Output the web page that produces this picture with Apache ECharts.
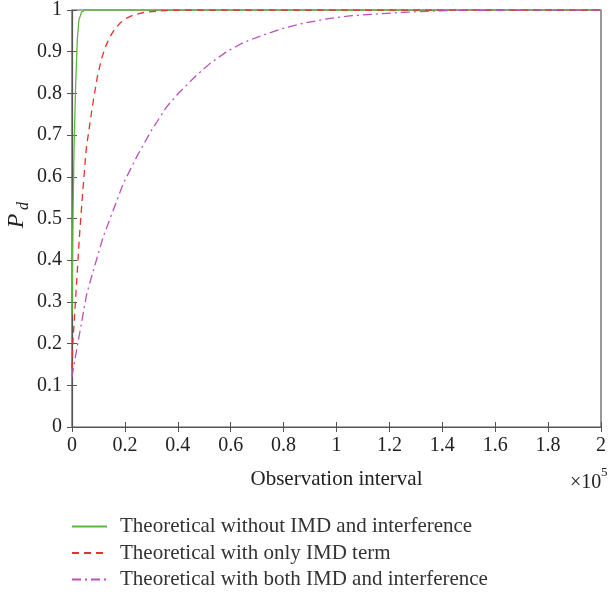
<!DOCTYPE html>
<html>
<head>
<meta charset="utf-8">
<script src="https://cdn.jsdelivr.net/npm/echarts@6/dist/echarts.min.js"></script>
<style>
html, body { margin: 0; padding: 0; background: #fff; }
#dashboard { width: 611px; height: 595px; }
</style>
</head>
<body>
<div id="dashboard"></div>
<script>
// observation interval in units of 1e5
var greenX = [0, 0.002, 0.004, 0.0076, 0.014, 0.020, 0.026, 0.036, 0.05, 2];
var greenY = [0.27, 0.40, 0.52, 0.664, 0.824, 0.928, 0.976, 0.995, 1, 1];

var redX = [0, 0.003, 0.008, 0.018, 0.028, 0.040, 0.054, 0.068, 0.081, 0.096, 0.112, 0.128, 0.144, 0.162, 0.181, 0.205, 0.232, 0.27, 0.333, 0.4, 2];
var redY = [0.14, 0.2, 0.25, 0.353, 0.456, 0.56, 0.668, 0.73, 0.784, 0.84, 0.884, 0.914, 0.936, 0.955, 0.968, 0.98, 0.988, 0.994, 0.998, 1, 1];

var purpleX = [0, 0.005, 0.030, 0.056, 0.081, 0.118, 0.156, 0.194, 0.248, 0.301, 0.358, 0.408, 0.465, 0.522, 0.585, 0.648, 0.723, 0.799, 0.874, 0.957, 1.05, 1.24, 1.43, 2];
var purpleY = [0.12, 0.14, 0.229, 0.32, 0.376, 0.456, 0.52, 0.584, 0.652, 0.712, 0.768, 0.804, 0.84, 0.872, 0.9, 0.922, 0.94, 0.956, 0.968, 0.978, 0.986, 0.994, 0.999, 1];

var seriesNames = [
	'Theoretical without IMD and interference',
	'Theoretical with only IMD term',
	'Theoretical with both IMD and interference'
];

function pairs(xs, ys) {
	var out = [];
	for (var i = 0; i < xs.length; i++) out.push([xs[i], ys[i]]);
	return out;
}

var serif = 'Liberation Serif';
var axisCol = '#555';
function fmt(v) { return String(parseFloat(v.toFixed(1))); }

var myChart = echarts.init(document.getElementById('dashboard'));
var option = {
	animation: false,
	textStyle: { fontFamily: serif },
	grid: { left: 72, right: 10, top: 10, bottom: 168, outerBoundsMode: 'none', containLabel: false,
		show: true, borderColor: axisCol, borderWidth: 1.2 },
	legend: {
		orient: 'vertical',
		left: 66,
		top: 511,
		itemWidth: 35,
		itemHeight: 14,
		itemGap: 5.5,
		itemStyle: { opacity: 0 },
		textStyle: { fontFamily: serif, fontSize: 21, lineHeight: 21, color: '#333', padding: [0, 0, 0, 8] },
		data: seriesNames
	},
	xAxis: [{
		type: 'value', min: 0, max: 2, interval: 0.2,
		name: 'Observation interval', nameLocation: 'middle', nameGap: 42,
		nameTextStyle: { fontFamily: serif, fontSize: 21, color: '#222' },
		axisLine: { lineStyle: { color: axisCol, width: 1.2 } },
		axisTick: { inside: true, length: 5, lineStyle: { color: axisCol } },
		axisLabel: { formatter: fmt, fontFamily: serif, fontSize: 20, color: '#222', margin: 9 },
		splitLine: { show: false }
	}, {
		type: 'value', min: 0, max: 2, interval: 0.2, position: 'top',
		axisLine: { show: false },
		axisTick: { inside: true, length: 5, lineStyle: { color: axisCol } },
		axisLabel: { show: false }, splitLine: { show: false }
	}],
	yAxis: [{
		type: 'value', min: 0, max: 1, interval: 0.1,
		axisLine: { lineStyle: { color: axisCol, width: 1.2 } },
		axisTick: { inside: true, length: 5, lineStyle: { color: axisCol } },
		axisLabel: { formatter: fmt, fontFamily: serif, fontSize: 20, color: '#222', margin: 10 },
		splitLine: { show: false }
	}, {
		type: 'value', min: 0, max: 1, interval: 0.1, position: 'right',
		axisLine: { show: false },
		axisTick: { inside: true, length: 5, lineStyle: { color: axisCol } },
		axisLabel: { show: false }, splitLine: { show: false }
	}],
	graphic: [{
		type: 'text', x: 17, y: 221, rotation: Math.PI / 2,
		style: { text: 'P', fontFamily: serif, fontStyle: 'italic', fontSize: 24, fill: '#222',
			textAlign: 'center', textVerticalAlign: 'middle' }
	}, {
		type: 'text', x: 23.5, y: 206, rotation: Math.PI / 2,
		style: { text: 'd', fontFamily: serif, fontStyle: 'italic', fontSize: 16, fill: '#222',
			textAlign: 'center', textVerticalAlign: 'middle' }
	}, {
		type: 'text', left: 570, top: 473,
		style: { text: '×10', fontFamily: serif, fontSize: 20, fill: '#222' }
	}, {
		type: 'text', left: 601, top: 466,
		style: { text: '5', fontFamily: serif, fontSize: 13, fill: '#222' }
	}],
	series: [{
		name: seriesNames[0], type: 'line', symbol: 'none', smooth: false,
		lineStyle: { color: '#5cb83a', width: 1.3 }, itemStyle: { color: '#5cb83a' },
		data: pairs(greenX, greenY)
	}, {
		name: seriesNames[1], type: 'line', symbol: 'none', smooth: false,
		lineStyle: { color: '#ee2e2e', width: 1.3, type: [7, 5] }, itemStyle: { color: '#ee2e2e' },
		data: pairs(redX, redY)
	}, {
		name: seriesNames[2], type: 'line', symbol: 'none', smooth: false,
		lineStyle: { color: '#bb4fbb', width: 1.3, type: [9, 4, 2, 4] }, itemStyle: { color: '#bb4fbb' },
		data: pairs(purpleX, purpleY)
	}]
};
myChart.setOption(option);
</script>
</body>
</html>
